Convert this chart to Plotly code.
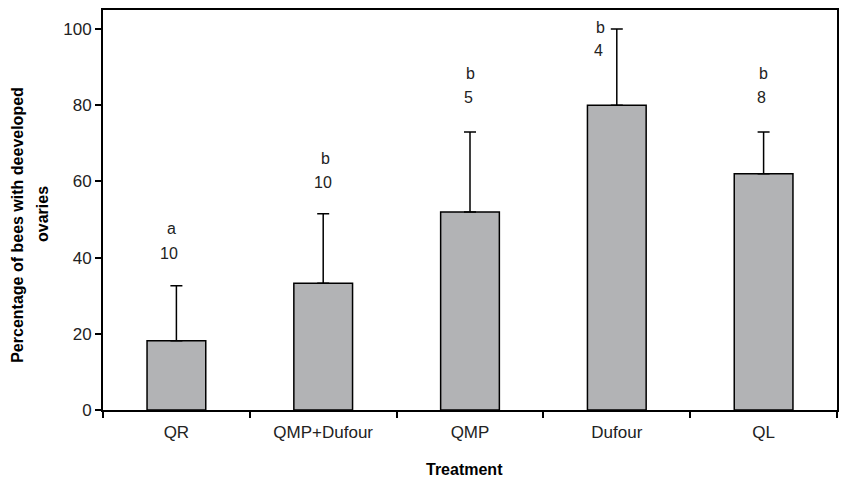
import plotly.graph_objects as go

treatments = ["QR", "QMP+Dufour", "QMP", "Dufour", "QL"]
pct_developed = [18.2, 33.3, 52.0, 80.0, 62.0]
err_upper = [14.4, 18.2, 21.0, 20.0, 11.0]
sig_letters = ["a", "b", "b", "b", "b"]
n_bees = ["10", "10", "5", "4", "8"]

# label layout (heights in axis units, horizontal nudges in px)
letter_y = [47.6, 66.0, 88.4, 100.3, 88.4]
n_y = [41.1, 59.7, 82.1, 94.5, 82.1]
label_shift = [-5, 2, 0, -16, 0]

FONT = "Liberation Sans, Arial, sans-serif"

fig = go.Figure()
fig.add_trace(go.Bar(
    x=treatments, y=pct_developed, width=0.4,
    marker=dict(color="#b2b3b5", line=dict(color="black", width=1.5)),
    error_y=dict(type="data", symmetric=False, array=err_upper,
                 arrayminus=[0] * len(err_upper),
                 color="black", thickness=1.5, width=6),
    showlegend=False, hoverinfo="skip",
))

for t, l, n, ly, ny, s in zip(treatments, sig_letters, n_bees, letter_y, n_y, label_shift):
    fig.add_annotation(x=t, y=ly, text=l, showarrow=False, xshift=s,
                       font=dict(family=FONT, size=16, color="#222"))
    fig.add_annotation(x=t, y=ny, text=n, showarrow=False, xshift=s - 2,
                       font=dict(family=FONT, size=16, color="#222"))

fig.add_annotation(xref="paper", yref="paper", x=0, y=0.463, xshift=-85,
                   xanchor="center", yanchor="middle",
                   text="<b>Percentage of bees with deeveloped</b>",
                   textangle=-90, showarrow=False,
                   font=dict(family=FONT, size=16, color="black"))
fig.add_annotation(xref="paper", yref="paper", x=0, y=0.490, xshift=-61,
                   xanchor="center", yanchor="middle",
                   text="<b>ovaries</b>",
                   textangle=-90, showarrow=False,
                   font=dict(family=FONT, size=16, color="black"))
fig.add_annotation(xref="paper", yref="paper", x=0.5, y=0, yshift=-59,
                   xshift=-6, xanchor="center", yanchor="middle",
                   text="<b>Treatment</b>", showarrow=False,
                   font=dict(family=FONT, size=16, color="black"))

fig.update_layout(
    width=842, height=479,
    margin=dict(l=103, r=3, t=10, b=69),
    paper_bgcolor="white", plot_bgcolor="white",
    font=dict(family=FONT, size=17, color="#222"),
    xaxis=dict(type="category", tickson="boundaries", ticks="outside",
               ticklen=6, tickwidth=1.5, tickcolor="black",
               showline=True, linecolor="black", linewidth=2, mirror=True,
               showgrid=False, ticklabelstandoff=6,
               tickfont=dict(family=FONT, size=17, color="#222")),
    yaxis=dict(range=[0, 105], tickvals=[0, 20, 40, 60, 80, 100],
               ticks="outside", ticklen=6, tickwidth=1.5, tickcolor="black",
               showline=True, linecolor="black", linewidth=2, mirror=True,
               showgrid=False, zeroline=False,
               tickfont=dict(family=FONT, size=17, color="#222")),
)

fig.write_html("out.html", config={"displayModeBar": False},
               post_script="document.body.style.margin='0';document.body.style.overflow='hidden';")
